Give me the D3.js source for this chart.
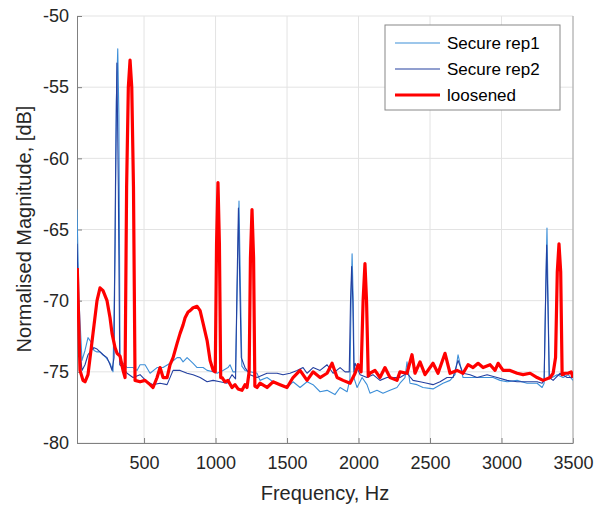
<!DOCTYPE html>
<html><head><meta charset="utf-8">
<script src="https://cdn.jsdelivr.net/npm/d3@7"></script>
<style>body{margin:0;background:#fff}svg{display:block;font-family:"Liberation Sans",Arial,sans-serif}</style>
</head><body><svg id="c" width="604" height="506"></svg>
<script>
const seriesNames = ["Secure rep1", "Secure rep2", "loosened"];
const xTicks = [500, 1000, 1500, 2000, 2500, 3000, 3500];
const yTicks = [-80, -75, -70, -65, -60, -55, -50];

const rep1Freq = [31,45,66,87,108,129,150,171,192,213,234,262,283,298,306,316,324,332,346,381,423,451,472,507,542,591,633,682,731,752,773,801,843,871,913,941,983,1011,1052,1087,1101,1122,1140,1152,1164,1174,1184,1206,1241,1290,1311,1360,1402,1451,1500,1542,1591,1640,1682,1731,1780,1835,1871,1920,1940,1948,1955,1963,1970,1990,2025,2059,2080,2129,2171,2220,2269,2290,2325,2339,2360,2409,2451,2521,2591,2640,2675,2696,2731,2801,2871,2941,2990,3039,3109,3179,3249,3284,3298,3308,3318,3326,3334,3354,3389,3431,3466,3500];
const rep1Db = [-63.6,-70,-74.2,-73.5,-72.6,-72.9,-73.5,-73.6,-73.6,-73.8,-74.0,-74.4,-75.0,-66,-56,-52.3,-57,-74.3,-74.3,-74.7,-74.7,-74.9,-74.5,-74.5,-75.1,-74.7,-74.7,-74.4,-74.0,-74.0,-74.3,-74.0,-74.4,-74.7,-74.7,-74.9,-75.0,-75.1,-74.9,-74.7,-74.5,-75.0,-75.0,-69,-63.0,-69,-74.6,-74.9,-75.0,-75.1,-75.6,-75.4,-75.7,-75.9,-76.1,-75.7,-76.1,-75.7,-75.9,-76.4,-76.3,-76.6,-76.1,-76.4,-75.5,-70,-66.7,-70,-75.5,-76.1,-75.4,-75.9,-76.5,-76.3,-76.5,-76.3,-76.1,-75.8,-75.4,-74.3,-75.8,-75.9,-76.1,-76.2,-75.8,-75.6,-75.2,-73.8,-75.4,-75.4,-75.4,-75.4,-75.6,-75.7,-75.6,-75.8,-75.8,-76.1,-75.8,-70,-64.9,-70,-75.5,-75.4,-75.2,-75.4,-75.2,-75.6];

const rep2Freq = [31,45,52,66,87,108,129,150,171,192,213,241,262,276,290,300,310,320,330,353,381,423,472,521,563,612,661,703,752,801,843,892,941,983,1031,1080,1115,1140,1150,1160,1170,1180,1206,1241,1290,1360,1430,1472,1521,1570,1612,1640,1682,1731,1780,1822,1871,1906,1935,1944,1952,1960,1968,1976,2011,2059,2101,2150,2199,2241,2290,2339,2381,2430,2479,2521,2570,2619,2661,2696,2731,2780,2829,2899,2969,3039,3109,3179,3249,3284,3298,3308,3316,3326,3334,3361,3410,3459,3500];
const rep2Db = [-66,-71.4,-73.5,-74.9,-74.5,-73.8,-73.5,-73.3,-73.4,-73.6,-73.8,-74.0,-74.5,-74.9,-74,-62,-53.3,-62,-74.5,-74.7,-75.1,-75.4,-75.2,-75.7,-75.9,-75.8,-75.9,-74.9,-74.9,-75.1,-75.2,-75.4,-75.7,-75.6,-75.7,-75.8,-75.2,-75.5,-69,-63.5,-69,-74,-74.7,-75.2,-75.4,-75.1,-75.1,-75.2,-75.1,-74.9,-74.7,-75.1,-74.7,-74.9,-74.5,-75.1,-74.7,-75.0,-75,-70,-67.6,-70,-75,-74.4,-75.2,-75.4,-75.2,-75.6,-75.4,-75.4,-75.4,-75.1,-75.6,-75.7,-75.8,-75.9,-75.7,-75.4,-75.4,-74.2,-75.1,-75.2,-75.4,-75.2,-75.4,-75.6,-75.7,-75.7,-75.7,-75.8,-75.6,-70,-66.1,-71,-75.4,-75.6,-75.1,-75.4,-75.4];

const looseFreq = [33,52,73,87,108,143,171,192,213,241,262,276,297,311,332,353,367,378,390,402,414,426,437,472,507,542,563,591,612,633,661,682,703,731,752,773,787,808,822,843,871,892,913,941,962,983,998,1007,1017,1027,1036,1045,1066,1087,1115,1136,1157,1185,1206,1220,1235,1244,1255,1266,1275,1290,1311,1360,1402,1451,1500,1542,1591,1640,1682,1731,1780,1815,1850,1892,1941,1976,1997,2018,2032,2045,2056,2068,2080,2115,2150,2185,2220,2269,2290,2339,2374,2395,2430,2465,2521,2556,2605,2640,2689,2731,2766,2801,2836,2871,2920,2955,2976,3011,3060,3109,3151,3200,3249,3291,3340,3361,3378,3390,3402,3414,3424,3445,3466,3487,3500];
const looseDb = [-67.7,-74.9,-75.6,-75.7,-75.2,-72.3,-70.0,-69.1,-69.3,-70.0,-71.2,-72.3,-73.3,-73.7,-73.9,-74.9,-75.4,-62,-55,-53.1,-55,-62,-75.6,-75.7,-75.6,-75.9,-76.1,-75.4,-74.7,-75.4,-75.4,-74.5,-74.0,-73.0,-72.3,-71.7,-71.2,-70.8,-70.7,-70.5,-70.4,-70.7,-71.6,-72.8,-74.2,-74.9,-75,-66,-61.7,-66,-75.4,-75.4,-75.7,-75.6,-76.1,-75.9,-76.2,-76.3,-75.9,-76.1,-75,-67,-63.6,-67,-76,-76.1,-75.8,-76.1,-75.7,-75.9,-76.1,-75.4,-74.9,-75.6,-75.0,-75.4,-75.1,-74.4,-75.4,-75.6,-75.8,-75.1,-74.5,-75,-70,-67.4,-70,-75.3,-75.1,-74.9,-75.4,-74.7,-75.4,-75.6,-75.0,-75.1,-73.8,-75.1,-74.3,-75.2,-74.4,-75.1,-73.7,-75.1,-74.9,-75.1,-74.5,-74.7,-74.4,-74.7,-74.5,-74.9,-74.4,-74.9,-74.9,-75.1,-75.2,-75.1,-75.4,-75.6,-75.4,-75.1,-74,-68,-66.0,-68,-75.2,-75.1,-75.1,-75.0,-75.4];

const svg = d3.select("#c");
const L = 77, R = 573, T = 16, B = 443;
const x = d3.scaleLinear().domain([31, 3500]).range([L, R]);
const y = d3.scaleLinear().domain([-80, -50]).range([B, T]);

// grid
svg.append("g").selectAll("line").data(xTicks).join("line")
  .attr("x1", d => x(d)).attr("x2", d => x(d)).attr("y1", T).attr("y2", B)
  .attr("stroke", "#e3e3e3").attr("stroke-width", 1);
svg.append("g").selectAll("line").data(yTicks).join("line")
  .attr("x1", L).attr("x2", R).attr("y1", d => y(d)).attr("y2", d => y(d))
  .attr("stroke", "#e3e3e3").attr("stroke-width", 1);

// axes
const fmt = d => String(d);
const xAxis = svg.append("g").attr("transform", `translate(0,${B})`)
  .call(d3.axisBottom(x).tickValues(xTicks).tickFormat(fmt).tickSize(-5).tickPadding(13).tickSizeOuter(0));
const yAxis = svg.append("g").attr("transform", `translate(${L},0)`)
  .call(d3.axisLeft(y).tickValues(yTicks).tickFormat(fmt).tickSize(-5).tickPadding(8).tickSizeOuter(0));
[xAxis, yAxis].forEach(g => {
  g.select(".domain").attr("stroke", "#808080");
  g.selectAll(".tick line").attr("stroke", "#808080");
  g.selectAll(".tick text").attr("fill", "#262626").style("font-size", "18px")
   .style("font-family", '"Liberation Sans", Arial, sans-serif');
});
svg.append("line").attr("x1", R).attr("x2", R).attr("y1", T).attr("y2", B).attr("stroke", "#a6a6a6");

// lines
const line = d3.line().x(d => x(d[0])).y(d => y(d[1]));
const zip = (a, b) => a.map((f, i) => [f, b[i]]);
const series = [
  {pts: zip(rep1Freq, rep1Db), color: "#3d8fd8", w: 1.1},
  {pts: zip(rep2Freq, rep2Db), color: "#2440a0", w: 1.1},
  {pts: zip(looseFreq, looseDb), color: "#ff0000", w: 3.2}
];
svg.append("clipPath").attr("id", "clp").append("rect")
  .attr("x", L).attr("y", T - 2).attr("width", R - L).attr("height", B - T + 2);
svg.append("g").attr("clip-path", "url(#clp)").selectAll("path").data(series).join("path")
  .attr("d", d => line(d.pts)).attr("fill", "none")
  .attr("stroke", d => d.color).attr("stroke-width", d => d.w)
  .attr("stroke-linejoin", "round");

// axis titles
svg.append("text").attr("x", 325).attr("y", 500).attr("text-anchor", "middle")
  .style("font-size", "20px").attr("fill", "#262626").text("Frequency, Hz");
svg.append("text").attr("transform", "translate(31,229) rotate(-90)").attr("text-anchor", "middle")
  .style("font-size", "20px").attr("fill", "#262626").text("Normalised Magnitude, [dB]");

// legend
const lg = svg.append("g");
lg.append("rect").attr("x", 385).attr("y", 25).attr("width", 175).attr("height", 85)
  .attr("fill", "#fff").attr("stroke", "#888").attr("stroke-width", 1);
seriesNames.forEach((n, i) => {
  const yy = 43 + i * 26;
  lg.append("line").attr("x1", 395).attr("x2", 440).attr("y1", yy).attr("y2", yy)
    .attr("stroke", series[i].color).attr("stroke-width", series[i].w);
  lg.append("text").attr("x", 447).attr("y", yy).attr("dy", "0.35em")
    .style("font-size", "17px").attr("fill", "#000").text(n);
});
</script></body></html>
